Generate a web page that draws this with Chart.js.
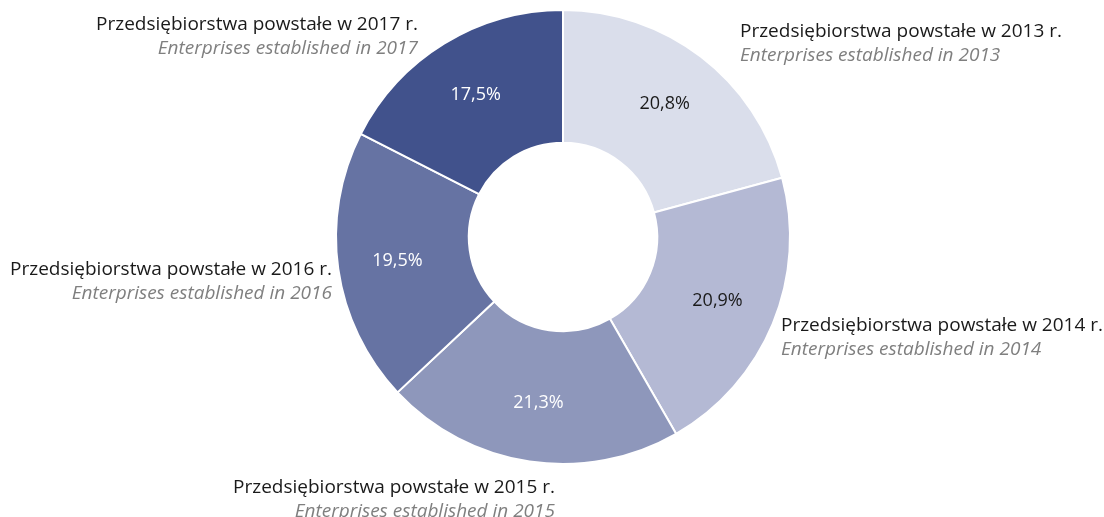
<!DOCTYPE html>
<html>
<head>
<meta charset="utf-8">
<script src="https://cdn.jsdelivr.net/npm/chart.js"></script>
<style>
  html, body { margin: 0; padding: 0; background: #fff; }
  #wrap { width: 1104px; height: 517px; position: relative; }
</style>
</head>
<body>
<div id="wrap"><canvas id="pie" width="1104" height="517"></canvas></div>
<script>
// data
const years = ['2013', '2014', '2015', '2016', '2017'];
const shares = [20.8, 20.9, 21.3, 19.5, 17.5];
const labelsPl = years.map(y => 'Przedsiębiorstwa powstałe w ' + y + ' r.');
const labelsEn = years.map(y => 'Enterprises established in ' + y);

// look
const colors = ['#dadeeb', '#b4b9d4', '#8e97bb', '#6673a3', '#41528c'];
const valueColors = ['#1a1a1a', '#1a1a1a', '#ffffff', '#ffffff', '#ffffff'];
// where the two-line captions sit: [x, baseline y of first line, align]
const captionPos = [
  [740, 37, 'left'],
  [781, 331, 'left'],
  [555, 493, 'right'],
  [332, 275, 'right'],
  [418, 30, 'right']
];
const FONT = '"Open Sans", "Noto Sans", sans-serif';

const sliceLabels = {
  id: 'sliceLabels',
  afterDatasetsDraw(chart) {
    const ctx = chart.ctx;
    const meta = chart.getDatasetMeta(0);
    ctx.save();
    meta.data.forEach((arc, i) => {
      const p = arc.getProps(['x', 'y', 'startAngle', 'endAngle', 'innerRadius', 'outerRadius'], true);
      const mid = (p.startAngle + p.endAngle) / 2;
      const r = p.innerRadius + 0.55 * (p.outerRadius - p.innerRadius);
      ctx.font = '18px ' + FONT;
      ctx.fillStyle = valueColors[i];
      ctx.textAlign = 'center';
      ctx.textBaseline = 'middle';
      ctx.fillText(shares[i].toFixed(1).replace('.', ',') + '%', p.x + r * Math.cos(mid), p.y + r * Math.sin(mid));

      const [cx, cy, al] = captionPos[i];
      ctx.textAlign = al;
      ctx.textBaseline = 'alphabetic';
      ctx.font = '19px ' + FONT;
      ctx.fillStyle = '#1a1a1a';
      ctx.fillText(labelsPl[i], cx, cy);
      ctx.font = 'italic 19px ' + FONT;
      ctx.fillStyle = '#7f7f7f';
      ctx.fillText(labelsEn[i], cx, cy + 24);
    });
    ctx.restore();
  }
};

new Chart(document.getElementById('pie'), {
  type: 'doughnut',
  data: {
    labels: labelsPl,
    datasets: [{
      data: shares,
      backgroundColor: colors,
      borderColor: '#ffffff',
      borderWidth: 2,
      hoverOffset: 0
    }]
  },
  options: {
    responsive: false,
    animation: false,
    cutout: '41.5%',
    layout: { padding: { top: 9, bottom: 52, left: 100, right: 78 } },
    plugins: { legend: { display: false }, tooltip: { enabled: false } }
  },
  plugins: [sliceLabels]
});
</script>
</body>
</html>
